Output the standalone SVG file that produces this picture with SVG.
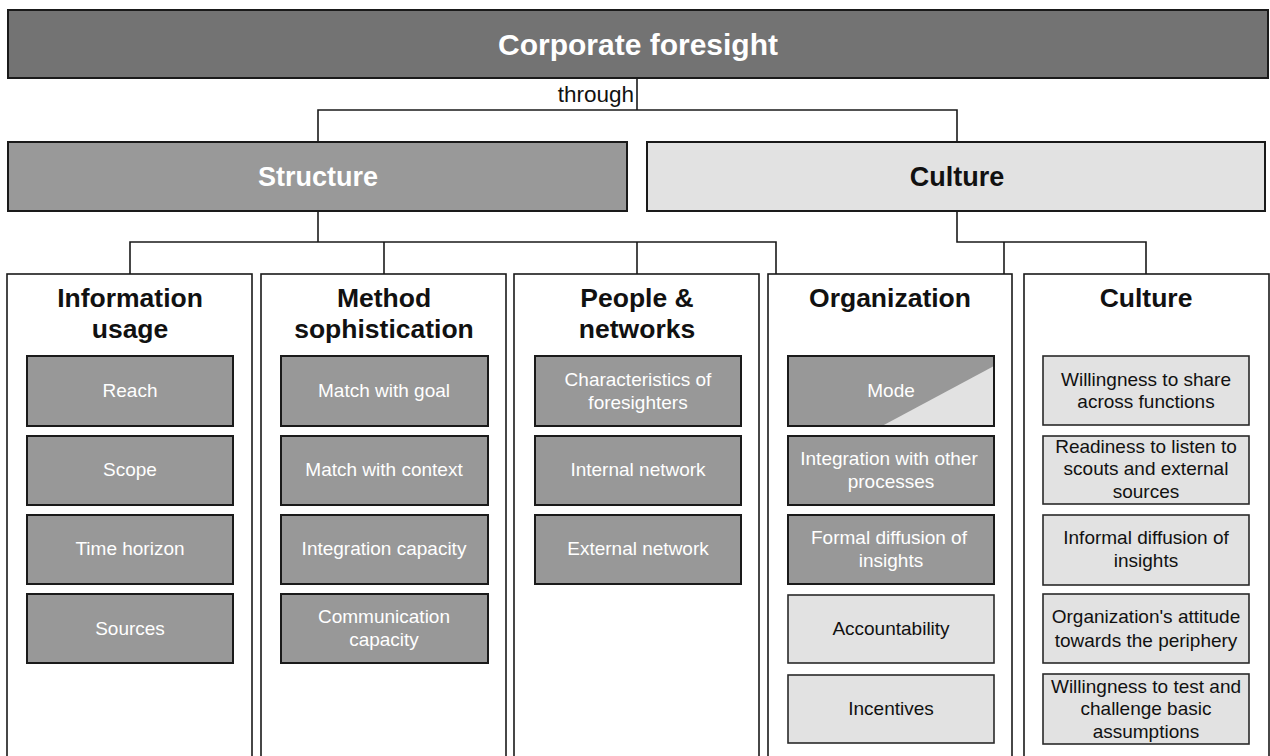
<svg xmlns="http://www.w3.org/2000/svg" width="1270" height="756" viewBox="0 0 1270 756">
<style>
  text { font-family: "Liberation Sans", Arial, sans-serif; text-anchor: middle; }
  .title { font-size: 30px; font-weight: bold; fill: #ffffff; }
  .lvl1 { font-size: 27px; font-weight: bold; }
  .head { font-size: 26.5px; font-weight: bold; fill: #111111; }
  .item { font-size: 19px; }
  .w { fill: #ffffff; }
  .k { fill: #111111; }
  .col { fill: #ffffff; stroke: #1a1a1a; stroke-width: 1.6; }
  .dark { fill: #989898; stroke: #1a1a1a; stroke-width: 2; }
  .light { fill: #e2e2e2; stroke: #2a2a2a; stroke-width: 1.6; }
  .conn { fill: none; stroke: #1a1a1a; stroke-width: 1.6; }
</style>
<rect width="1270" height="756" fill="#ffffff"/>

<g id="corporate-foresight">
  <rect x="8" y="10" width="1260" height="68" fill="#737373" stroke="#1a1a1a" stroke-width="2"/>
  <text class="title" x="638" y="55">Corporate foresight</text>
</g>

<g id="structure">
  <rect x="8" y="142" width="619" height="69" fill="#999999" stroke="#1a1a1a" stroke-width="2"/>
  <text class="lvl1 w" x="318" y="186">Structure</text>
</g>

<g id="culture">
  <rect x="647" y="142" width="618" height="69" fill="#e2e2e2" stroke="#1a1a1a" stroke-width="2"/>
  <text class="lvl1 k" x="957" y="186">Culture</text>
</g>

<g id="connectors">
  <polyline class="conn" points="637,78 637,110"/>
  <polyline class="conn" points="318,142 318,110 957,110 957,142"/>
  <text class="k" x="634" y="102" style="font-size:22.5px;text-anchor:end">through</text>
  <polyline class="conn" points="318,211 318,242"/>
  <polyline class="conn" points="130,274 130,242 776,242 776,549"/>
  <polyline class="conn" points="384,242 384,274"/>
  <polyline class="conn" points="637,242 637,274"/>
  <polyline class="conn" points="776,391 788,391"/>
  <polyline class="conn" points="776,470 788,470"/>
  <polyline class="conn" points="776,549 788,549"/>
  <polyline class="conn" points="957,211 957,242 1146,242 1146,274"/>
  <polyline class="conn" points="1004,242 1004,709"/>
  <polyline class="conn" points="994,397 1004,397"/>
  <polyline class="conn" points="994,629 1004,629"/>
  <polyline class="conn" points="994,709 1004,709"/>
</g>

<g id="col-information-usage">
  <rect class="col" x="7" y="274" width="245" height="500"/>
  <text class="head" x="130" y="307">Information</text>
  <text class="head" x="130" y="338">usage</text>
</g>
<g id="col-method-sophistication">
  <rect class="col" x="261" y="274" width="245" height="500"/>
  <text class="head" x="384" y="307">Method</text>
  <text class="head" x="384" y="338">sophistication</text>
</g>
<g id="col-people-networks">
  <rect class="col" x="514" y="274" width="245" height="500"/>
  <text class="head" x="637" y="307">People &amp;</text>
  <text class="head" x="637" y="338">networks</text>
</g>
<g id="col-organization">
  <rect class="col" x="768" y="274" width="244" height="500"/>
  <text class="head" x="890" y="307">Organization</text>
</g>
<g id="col-culture">
  <rect class="col" x="1024" y="274" width="245" height="500"/>
  <text class="head" x="1146" y="307">Culture</text>
</g>

<!-- Information usage items -->
<g id="reach"><rect class="dark" x="27" y="356" width="206" height="70"/><text class="item w" x="130" y="397">Reach</text></g>
<g id="scope"><rect class="dark" x="27" y="436" width="206" height="69"/><text class="item w" x="130" y="476">Scope</text></g>
<g id="time-horizon"><rect class="dark" x="27" y="515" width="206" height="69"/><text class="item w" x="130" y="555">Time horizon</text></g>
<g id="sources"><rect class="dark" x="27" y="594" width="206" height="69"/><text class="item w" x="130" y="635">Sources</text></g>

<!-- Method sophistication items -->
<g id="match-goal"><rect class="dark" x="281" y="356" width="207" height="70"/><text class="item w" x="384" y="397">Match with goal</text></g>
<g id="match-context"><rect class="dark" x="281" y="436" width="207" height="69"/><text class="item w" x="384" y="476">Match with context</text></g>
<g id="integration-capacity"><rect class="dark" x="281" y="515" width="207" height="69"/><text class="item w" x="384" y="555">Integration capacity</text></g>
<g id="communication-capacity"><rect class="dark" x="281" y="594" width="207" height="69"/><text class="item w" x="384" y="623">Communication</text><text class="item w" x="384" y="646">capacity</text></g>

<!-- People & networks items -->
<g id="characteristics"><rect class="dark" x="535" y="356" width="206" height="70"/><text class="item w" x="638" y="386">Characteristics of</text><text class="item w" x="638" y="409">foresighters</text></g>
<g id="internal-network"><rect class="dark" x="535" y="436" width="206" height="69"/><text class="item w" x="638" y="476">Internal network</text></g>
<g id="external-network"><rect class="dark" x="535" y="515" width="206" height="69"/><text class="item w" x="638" y="555">External network</text></g>

<!-- Organization items -->
<g id="mode">
  <rect x="788" y="356" width="206" height="70" fill="#989898"/>
  <polygon points="882,426 994,426 994,366" fill="#e2e2e2"/>
  <rect x="788" y="356" width="206" height="70" fill="none" stroke="#1a1a1a" stroke-width="2"/>
  <text class="item w" x="891" y="397">Mode</text>
</g>
<g id="integration-processes"><rect class="dark" x="788" y="436" width="206" height="69"/><text class="item w" x="889" y="465">Integration with other</text><text class="item w" x="891" y="488">processes</text></g>
<g id="formal-diffusion"><rect class="dark" x="788" y="515" width="206" height="69"/><text class="item w" x="889" y="544">Formal diffusion of</text><text class="item w" x="891" y="567">insights</text></g>
<g id="accountability"><rect class="light" x="788" y="595" width="206" height="68"/><text class="item k" x="891" y="635">Accountability</text></g>
<g id="incentives"><rect class="light" x="788" y="675" width="206" height="68"/><text class="item k" x="891" y="715">Incentives</text></g>

<!-- Culture items -->
<g id="share"><rect class="light" x="1043" y="356" width="206" height="69"/><text class="item k" x="1146" y="386">Willingness to share</text><text class="item k" x="1146" y="408">across functions</text></g>
<g id="readiness"><rect class="light" x="1043" y="436" width="206" height="68"/><text class="item k" x="1146" y="453">Readiness to listen to</text><text class="item k" x="1146" y="475">scouts and external</text><text class="item k" x="1146" y="498">sources</text></g>
<g id="informal-diffusion"><rect class="light" x="1043" y="515" width="206" height="70"/><text class="item k" x="1146" y="544">Informal diffusion of</text><text class="item k" x="1146" y="567">insights</text></g>
<g id="attitude"><rect class="light" x="1043" y="594" width="206" height="69"/><text class="item k" x="1146" y="623">Organization's attitude</text><text class="item k" x="1146" y="647">towards the periphery</text></g>
<g id="test"><rect class="light" x="1043" y="674" width="206" height="70"/><text class="item k" x="1146" y="693">Willingness to test and</text><text class="item k" x="1146" y="715">challenge basic</text><text class="item k" x="1146" y="738">assumptions</text></g>
</svg>
